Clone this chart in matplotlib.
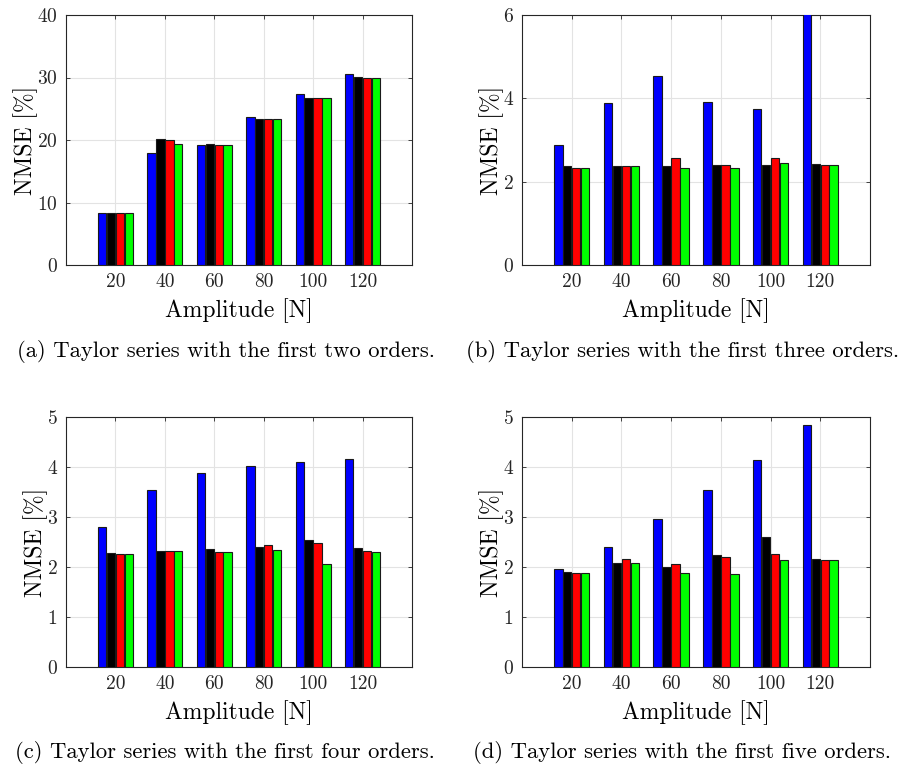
import numpy as np
import matplotlib
matplotlib.use('Agg')
import matplotlib.pyplot as plt

plt.rcParams['font.family'] = 'serif'
plt.rcParams['font.serif'] = ['cmr10']
plt.rcParams['axes.formatter.use_mathtext'] = True
plt.rcParams['mathtext.fontset'] = 'cm'

amps = ['20', '40', '60', '80', '100', '120']

# NMSE [%] for each panel, four series (blue, black, red, green)
a_blue = [8.3, 17.9, 19.2, 23.7, 27.3, 30.5]
a_black = [8.4, 20.1, 19.3, 23.4, 26.8, 30.1]
a_red = [8.3, 20.0, 19.2, 23.3, 26.8, 30.0]
a_green = [8.3, 19.3, 19.2, 23.3, 26.8, 30.0]

b_blue = [2.87, 3.88, 4.54, 3.92, 3.74, 6.2]
b_black = [2.37, 2.38, 2.38, 2.39, 2.41, 2.42]
b_red = [2.34, 2.37, 2.56, 2.39, 2.58, 2.40]
b_green = [2.34, 2.37, 2.33, 2.34, 2.45, 2.40]

c_blue = [2.80, 3.55, 3.89, 4.03, 4.10, 4.17]
c_black = [2.29, 2.33, 2.37, 2.40, 2.55, 2.39]
c_red = [2.27, 2.32, 2.31, 2.45, 2.48, 2.32]
c_green = [2.27, 2.32, 2.31, 2.35, 2.06, 2.30]

d_blue = [1.97, 2.40, 2.96, 3.55, 4.14, 4.84]
d_black = [1.91, 2.08, 2.01, 2.24, 2.61, 2.17]
d_red = [1.89, 2.16, 2.06, 2.21, 2.26, 2.15]
d_green = [1.89, 2.08, 1.89, 1.86, 2.14, 2.15]

captions = ['(a) Taylor series with the first two orders.',
            '(b) Taylor series with the first three orders.',
            '(c) Taylor series with the first four orders.',
            '(d) Taylor series with the first five orders.']
ylims = [40, 6, 5, 5]
yticks = [[0, 10, 20, 30, 40], [0, 2, 4, 6], [0, 1, 2, 3, 4, 5], [0, 1, 2, 3, 4, 5]]

panels = [[a_blue, a_black, a_red, a_green],
          [b_blue, b_black, b_red, b_green],
          [c_blue, c_black, c_red, c_green],
          [d_blue, d_black, d_red, d_green]]
colors = ['#0000ff', '#000000', '#ff0000', '#00ff00']

W, H = 904, 771
fig = plt.figure(figsize=(W / 100, H / 100), dpi=100)

# axes boxes in pixels: left, top, right, bottom
boxes = [(66, 15, 412, 265), (522, 15, 870, 265),
         (66, 417, 412, 667), (522, 417, 870, 667)]
cap_x = [226, 683, 225, 682]
cap_y = [352, 352, 752, 752]

x = np.arange(1, len(amps) + 1)
offs = [-0.27, -0.09, 0.09, 0.27]
bw = 0.17

for i in range(4):
    l, t, r, b = boxes[i]
    ax = fig.add_axes([l / W, 1 - b / H, (r - l) / W, (b - t) / H])
    for k in range(4):
        ax.bar(x + offs[k], panels[i][k], bw, color=colors[k],
               edgecolor='#1a1a1a', linewidth=0.8, zorder=3)
    ax.set_xlim(0, 7)
    ax.set_ylim(0, ylims[i])
    ax.set_xticks(x)
    ax.set_xticklabels(amps)
    ax.set_yticks(yticks[i])
    ax.grid(True, color='#e3e3e3', linewidth=0.8, zorder=0)
    ax.set_axisbelow(True)
    ax.tick_params(direction='in', length=3, width=0.6, top=True, right=True,
                   labelsize=14, colors='#262626', pad=6)
    for s in ax.spines.values():
        s.set_color('#262626')
        s.set_linewidth(0.8)
    ax.set_xlabel('Amplitude [N]', fontsize=17, labelpad=5)
    ax.set_ylabel('NMSE [%]', fontsize=17, labelpad=-1)
    fig.text(cap_x[i] / W, 1 - cap_y[i] / H, captions[i], fontsize=16.3,
             ha='center', va='center')

fig.savefig('out.png', dpi=100)
